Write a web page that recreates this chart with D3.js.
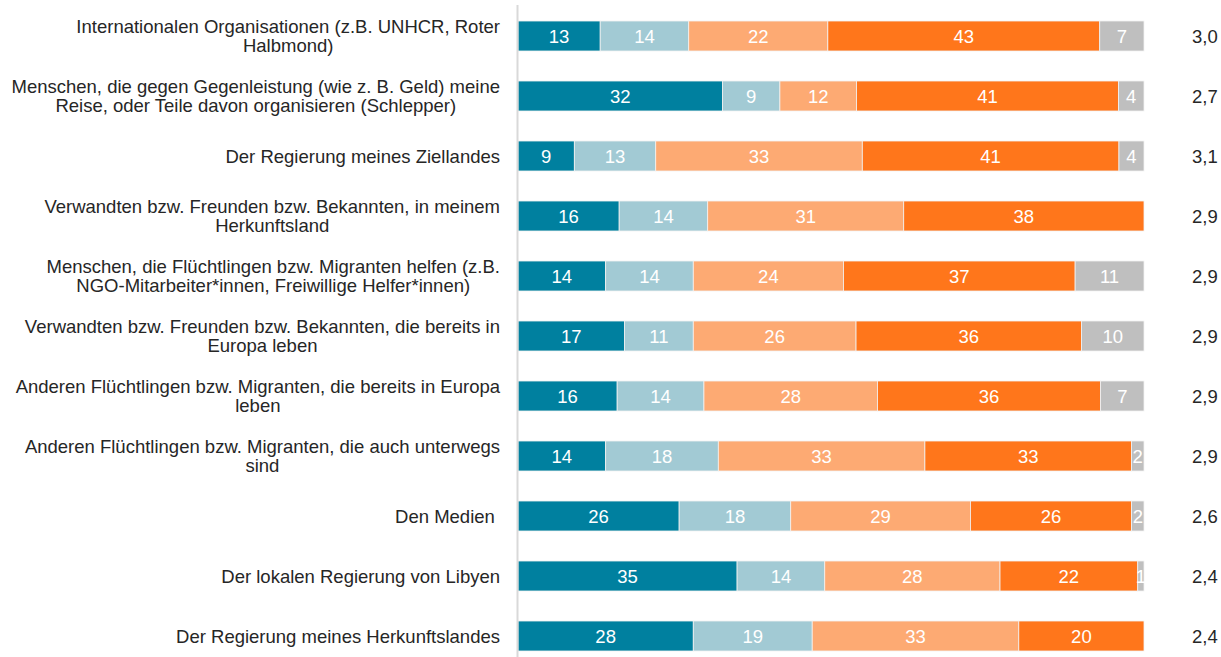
<!DOCTYPE html>
<html>
<head>
<meta charset="utf-8">
<script src="https://cdn.jsdelivr.net/npm/d3@7"></script>
<style>
  body { margin: 0; background: #fff; }
  text { font-family: "Liberation Sans", Arial, sans-serif; }
</style>
</head>
<body>
<div id="chart"></div>
<script>
// chart size
var svgWidth = 1221;
var svgHeight = 657;

var margin = { top: 6, right: 77, bottom: 6, left: 518 };

// categories (lines of each label)
var categories = [
  ["Internationalen Organisationen (z.B. UNHCR, Roter", "Halbmond)"],
  ["Menschen, die gegen Gegenleistung (wie z. B. Geld) meine", "Reise, oder Teile davon organisieren (Schlepper)"],
  ["Der Regierung meines Ziellandes"],
  ["Verwandten bzw. Freunden bzw. Bekannten, in meinem", "Herkunftsland"],
  ["Menschen, die Flüchtlingen bzw. Migranten helfen (z.B.", "NGO-Mitarbeiter*innen, Freiwillige Helfer*innen)"],
  ["Verwandten bzw. Freunden bzw. Bekannten, die bereits in", "Europa leben"],
  ["Anderen Flüchtlingen bzw. Migranten, die bereits in Europa", "leben"],
  ["Anderen Flüchtlingen bzw. Migranten, die auch unterwegs", "sind"],
  ["Den Medien "],
  ["Der lokalen Regierung von Libyen"],
  ["Der Regierung meines Herkunftslandes"]
];

// series values (%)
var s1 = [13, 32, 9, 16, 14, 17, 16, 14, 26, 35, 28];
var s2 = [14, 9, 13, 14, 14, 11, 14, 18, 18, 14, 19];
var s3 = [22, 12, 33, 31, 24, 26, 28, 33, 29, 28, 33];
var s4 = [43, 41, 41, 38, 37, 36, 36, 33, 26, 22, 20];
var s5 = [7, 4, 4, 0, 11, 10, 7, 2, 2, 1, 0];

// mean values
var means = ["3,0", "2,7", "3,1", "2,9", "2,9", "2,9", "2,9", "2,9", "2,6", "2,4", "2,4"];

var colors = ["#00809f", "#a2cad4", "#fdaa73", "#ff761b", "#bfbfbf"];

var fontSize = "18.5px";

var svg = d3.select("#chart")
  .append("svg")
  .attr("width", svgWidth)
  .attr("height", svgHeight);

var chartGroup = svg.append("g")
  .attr("transform", `translate(${margin.left}, ${margin.top})`);

// build rows
var rows = categories.map(function(c, i) {
  return { idx: i, lines: c, vals: [s1[i], s2[i], s3[i], s4[i], s5[i]], mean: means[i] };
});

var yScale = d3.scaleBand()
  .domain(d3.range(rows.length))
  .range([0, 660])
  .paddingInner(0.5)
  .paddingOuter(0.25);

// each bar is shown as share of its own total
var xScale = d3.scaleLinear()
  .domain([0, 1])
  .range([0, 626]);

// vertical axis line
svg.append("line")
  .attr("x1", margin.left - 0.5)
  .attr("x2", margin.left - 0.5)
  .attr("y1", 5)
  .attr("y2", svgHeight)
  .attr("stroke", "#d9d9d9")
  .attr("stroke-width", 2);

var rowGroups = chartGroup.selectAll(".row")
  .data(rows)
  .enter()
  .append("g")
  .attr("class", "row")
  .attr("transform", d => `translate(0, ${yScale(d.idx)})`);

rowGroups.each(function(d) {
  var g = d3.select(this);
  var total = d3.sum(d.vals);
  var cum = 0;
  var segs = d.vals.map(function(v, k) {
    var s = { v: v, k: k, x0: cum / total, x1: (cum + v) / total };
    cum += v;
    return s;
  }).filter(s => s.v > 0);

  g.selectAll("rect")
    .data(segs)
    .enter()
    .append("rect")
    .attr("x", s => xScale(s.x0))
    .attr("width", s => xScale(s.x1) - xScale(s.x0))
    .attr("y", 0)
    .attr("height", yScale.bandwidth())
    .attr("fill", s => colors[s.k])
    .attr("stroke", "#f2f2f2")
    .attr("stroke-width", 0.8);

  g.selectAll(".val")
    .data(segs)
    .enter()
    .append("text")
    .attr("class", "val")
    .attr("x", s => (xScale(s.x0) + xScale(s.x1)) / 2)
    .attr("y", yScale.bandwidth() / 2)
    .attr("dy", "0.36em")
    .attr("text-anchor", "middle")
    .attr("font-size", fontSize)
    .attr("fill", "#fff")
    .text(s => s.v);

  // mean value on the right
  g.append("text")
    .attr("x", 674)
    .attr("y", yScale.bandwidth() / 2)
    .attr("dy", "0.36em")
    .attr("font-size", fontSize)
    .attr("fill", "#262626")
    .text(d.mean);

  // category label: centred lines, block right-aligned
  var lineH = 19;
  var texts = g.append("g").selectAll("text")
    .data(d.lines)
    .enter()
    .append("text")
    .attr("font-size", fontSize)
    .attr("fill", "#262626")
    .attr("text-anchor", "middle")
    .style("white-space", "pre")
    .attr("y", (t, j) => yScale.bandwidth() / 2 + (j - (d.lines.length - 1) / 2) * lineH)
    .attr("dy", "0.36em")
    .text(t => t);
  var w = d3.max(texts.nodes(), n => n.getComputedTextLength());
  texts.attr("x", -18 - w / 2);
});
</script>
</body>
</html>
